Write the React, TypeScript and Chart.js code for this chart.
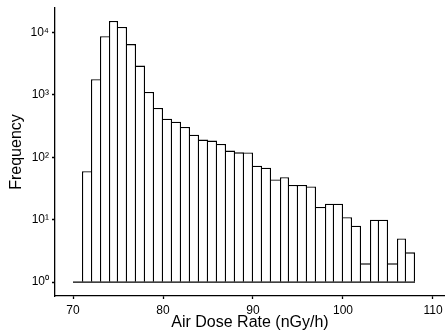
import React, { useEffect, useRef } from 'react';
import { Chart, registerables } from 'chart.js';

Chart.register(...registerables);

// Histogram bins (left edges, bin width 1 nGy/h)
const binStarts = [70, 71, 72, 73, 74, 75, 76, 77, 78, 79, 80, 81, 82, 83, 84, 85, 86, 87, 88, 89, 90, 91, 92, 93, 94, 95, 96, 97, 98, 99, 100, 101, 102, 103, 104, 105, 106, 107];
const binWidth = 1;
const counts = [1, 60, 1780, 8700, 15200, 12200, 6500, 2940, 1110, 614, 415, 372, 305, 230, 192, 185, 163, 128, 120, 119, 73, 68, 44, 48, 36, 36, 34, 16, 18, 18, 11, 8, 2, 10, 10, 2, 5, 3];

const xTickValues = [70, 80, 90, 100, 110];
const yTickValues = [1, 10, 100, 1000, 10000];
const yTickLabels = ['10\u2070', '10\u00B9', '10\u00B2', '10\u00B3', '10\u2074'];

const xTitle = 'Air Dose Rate (nGy/h)';
const yTitle = 'Frequency';

const FONT = "'Liberation Sans', Arial, Helvetica, sans-serif";
const LINE = 1.3;

export default function App() {
  const ref = useRef<HTMLCanvasElement>(null);

  useEffect(() => {
    const barData = binStarts.map((s, i) => ({ x: s + binWidth / 2, y: counts[i] }));
    const lastIdx = barData.length - 1;
    const baseline = [
      { x: binStarts[0], y: 1 },
      { x: binStarts[lastIdx] + binWidth, y: 1 },
    ];

    const chart = new Chart(ref.current as HTMLCanvasElement, {
      type: 'bar',
      data: {
        datasets: [
          {
            type: 'bar',
            data: barData as any,
            base: 1,
            backgroundColor: '#ffffff',
            borderColor: '#000000',
            borderSkipped: false,
            inflateAmount: 0,
            borderWidth: (ctx: any) => {
              const i = ctx.dataIndex;
              const leftOn = i === 0 || counts[i - 1] < counts[i];
              const rightOn = i === lastIdx || counts[i + 1] <= counts[i];
              return {
                top: LINE,
                left: leftOn ? LINE : 0,
                bottom: 0,
                right: rightOn ? LINE : 0,
              };
            },
            barPercentage: 1,
            categoryPercentage: 1,
            order: 2,
          } as any,
          {
            type: 'line',
            data: baseline as any,
            borderColor: '#000000',
            borderWidth: LINE,
            pointRadius: 0,
            fill: false,
            order: 1,
          } as any,
        ],
      },
      options: {
        animation: false,
        responsive: false,
        layout: { padding: { top: 8, right: 0, left: 0, bottom: 0 } },
        plugins: {
          legend: { display: false },
          tooltip: { enabled: false },
        },
        scales: {
          x: {
            type: 'linear',
            offset: false,
            min: 68,
            max: 68 + 390 / 9,
            afterBuildTicks: (s: any) => {
              s.ticks = xTickValues.map((v) => ({ value: v }));
            },
            afterFit: (s: any) => {
              s.height = 40;
              s.paddingLeft = 0;
              s.paddingRight = 0;
            },
            grid: {
              display: true,
              offset: false,
              drawOnChartArea: false,
              drawTicks: true,
              tickLength: 3,
              color: '#000',
              tickColor: '#000',
              tickWidth: LINE,
            },
            border: { display: true, color: '#000', width: LINE },
            ticks: {
              color: '#000',
              font: { family: FONT, size: 12 },
              padding: 4,
              maxRotation: 0,
              autoSkip: false,
            },
            title: {
              display: true,
              text: xTitle,
              color: '#000',
              font: { family: FONT, size: 16 },
              padding: { top: 0, bottom: 4 },
            },
          },
          y: {
            type: 'logarithmic',
            min: 0.618,
            max: 24600,
            afterBuildTicks: (s: any) => {
              s.ticks = yTickValues.map((v) => ({ value: v }));
            },
            afterFit: (s: any) => {
              s.width = 55;
              s.paddingTop = 0;
              s.paddingBottom = 0;
            },
            grid: {
              display: true,
              drawOnChartArea: false,
              drawTicks: true,
              tickLength: 3,
              color: '#000',
              tickColor: '#000',
              tickWidth: LINE,
            },
            border: { display: true, color: '#000', width: LINE },
            ticks: {
              color: '#000',
              font: { family: FONT, size: 12 },
              padding: 3,
              autoSkip: false,
              callback: (value: any) => {
                const i = yTickValues.indexOf(Number(value));
                return i >= 0 ? yTickLabels[i] : '';
              },
            },
            title: {
              display: true,
              text: yTitle,
              color: '#000',
              font: { family: FONT, size: 16 },
              padding: { top: 7, bottom: 0 },
            },
          },
        },
      } as any,
    });

    return () => chart.destroy();
  }, []);

  return (
    <div style={{ position: 'absolute', left: 0, top: 0, width: 445, height: 336 }}>
      <canvas ref={ref} width={445} height={336} style={{ width: 445, height: 336, display: 'block' }} />
    </div>
  );
}
